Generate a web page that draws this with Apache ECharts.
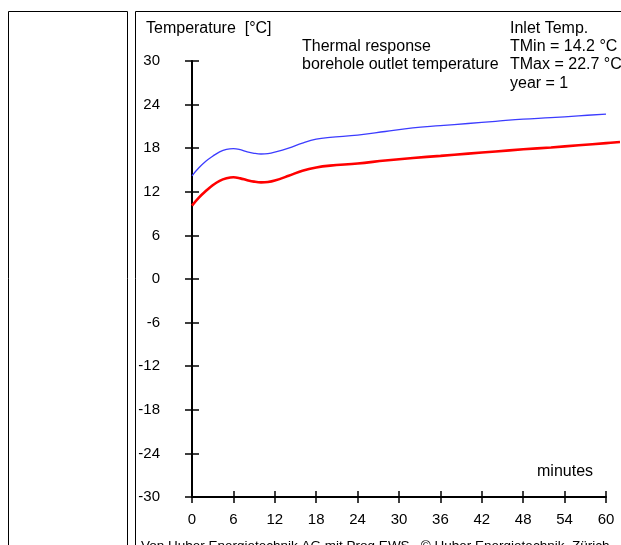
<!DOCTYPE html>
<html><head><meta charset="utf-8">
<script src="https://cdn.jsdelivr.net/npm/echarts@6/dist/echarts.min.js"></script>
<style>html,body{margin:0;padding:0;background:#fff}#c{width:621px;height:545px}</style>
</head><body><div id="c"></div>
<script>
const times    = [0,1,2,3,4,5,6,7,8,9,10,11,12,14,16,18,20,24,28,32,36,40,44,48,52,56,60];
const outletHi = [14.2,15.3,16.2,16.9,17.5,17.85,17.95,17.8,17.5,17.3,17.2,17.25,17.45,18.0,18.7,19.25,19.5,19.8,20.3,20.8,21.1,21.4,21.7,22.0,22.2,22.45,22.7];
const timesLo  = [0,1,2,3,4,5,6,7,8,9,10,11,12,14,16,18,20,24,28,32,36,40,44,48,52,56,60,62];
const outletLo = [10.1,11.2,12.1,12.9,13.5,13.85,14.0,13.85,13.6,13.4,13.3,13.35,13.55,14.2,14.9,15.35,15.6,15.9,16.3,16.65,16.95,17.25,17.55,17.85,18.1,18.4,18.7,18.85];
const yTicks = [-30,-24,-18,-12,-6,0,6,12,18,24,30];
const xTicks = [0,6,12,18,24,30,36,42,48,54,60];

const chart = echarts.init(document.getElementById('c'));
const F = '"Liberation Sans", Arial, sans-serif';
const txt = (x,y,s,extra)=>({type:'text',left:x,top:y,style:Object.assign({text:s,fill:'#000',font:'16px '+F},extra||{})});
const axBase = {type:'value',min:-30,max:30,interval:6};
const xBase = {type:'value',min:0,max:60,interval:6};
const lab = {color:'#000',fontFamily:'Liberation Sans',fontSize:15};
const hidden = {show:false};
chart.setOption({
  animation:false,
  grid:[{left:192,right:15,top:61,bottom:48},{left:192,right:1,top:61,bottom:48}],
  xAxis:[
    Object.assign({},xBase,{gridIndex:0,axisLine:{onZero:false,lineStyle:{color:'#000',width:2}},axisTick:{length:6,lineStyle:{color:'#000',width:1.5}},
      axisLabel:Object.assign({margin:15},lab),splitLine:hidden}),
    Object.assign({},xBase,{gridIndex:0,position:'bottom',axisLine:{show:false,onZero:false},axisTick:{inside:true,length:6,lineStyle:{color:'#000',width:1.5}},axisLabel:hidden,splitLine:hidden}),
    {type:'value',gridIndex:1,min:0,max:timesLo[timesLo.length-1],show:false}
  ],
  yAxis:[
    Object.assign({},axBase,{gridIndex:0,axisLine:{show:true,onZero:false,lineStyle:{color:'#000',width:2}},axisTick:{show:true,length:7,lineStyle:{color:'#000',width:1.5}},
      axisLabel:Object.assign({margin:32,formatter:v=>String(v)},lab),splitLine:hidden}),
    Object.assign({},axBase,{gridIndex:0,position:'left',axisLine:{show:false,onZero:false},axisTick:{show:true,inside:true,length:7,lineStyle:{color:'#000',width:1.5}},axisLabel:hidden,splitLine:hidden}),
    Object.assign({},axBase,{gridIndex:1,show:false})
  ],
  series:[
    {type:'line',xAxisIndex:0,yAxisIndex:0,data:times.map((t,i)=>[t,outletHi[i]]),smooth:0.4,showSymbol:false,lineStyle:{color:'#3c3cff',width:1.3}},
    {type:'line',xAxisIndex:2,yAxisIndex:2,data:timesLo.map((t,i)=>[t,outletLo[i]]),smooth:0.4,showSymbol:false,lineStyle:{color:'#ff0000',width:2.6}}
  ],
  graphic:[
    {type:'rect',shape:{x:8.5,y:11.5,width:119,height:560},style:{fill:'none',stroke:'#000',lineWidth:1}},
    {type:'rect',shape:{x:135.5,y:11.5,width:520,height:560},style:{fill:'none',stroke:'#000',lineWidth:1}},
    txt(146,21,'Temperature  [°C]'),
    txt(302,39,'Thermal response'),
    txt(302,57,'borehole outlet temperature'),
    txt(510,21,'Inlet Temp.'),
    txt(510,39,'TMin = 14.2 °C'),
    txt(510,57,'TMax = 22.7 °C'),
    txt(510,76,'year = 1'),
    txt(537,464,'minutes'),
    txt(141,539,'Von Huber Energietechnik AG mit Prog EWS   © Huber Energietechnik, Zürich',{font:'13.5px '+F})
  ]
});
</script></body></html>
